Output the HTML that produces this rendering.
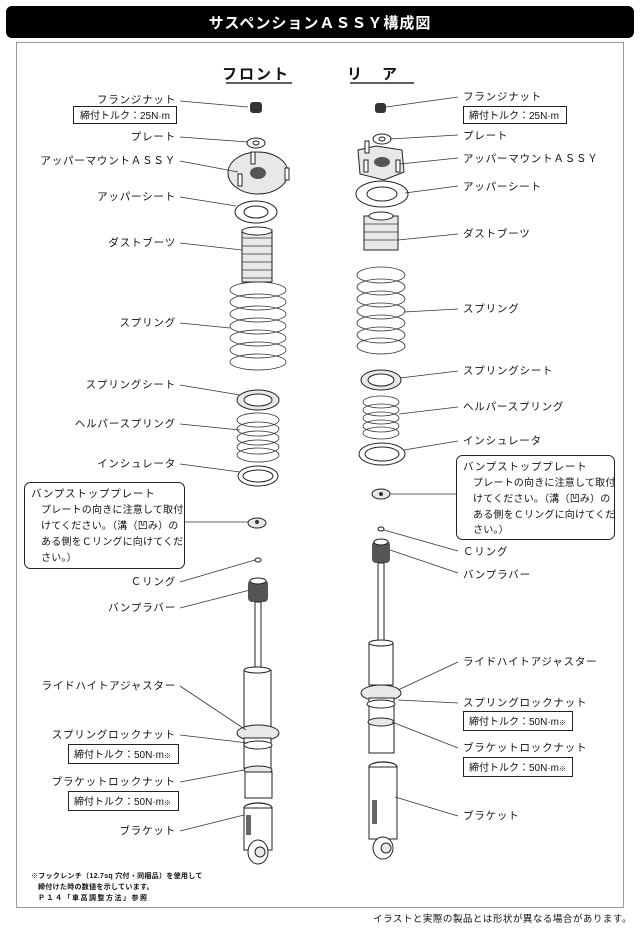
<!DOCTYPE html>
<html><head><meta charset="utf-8"><style>
html,body{margin:0;padding:0;background:#fff;}
svg{display:block;}
text{font-family:"Liberation Sans","Noto Sans CJK JP",sans-serif;font-size:10.5px;fill:#111;letter-spacing:0.8px;}
.r{text-anchor:end;}
.s{font-size:7px;letter-spacing:0.3px;}
.t{letter-spacing:0;font-size:10px;}
.bx{font-size:10px;letter-spacing:0.2px;}
.p{fill:#fff;stroke:#222;stroke-width:1;}
.g{fill:#e8e8e8;stroke:#222;stroke-width:1;}
.l{stroke:#333;stroke-width:0.8;fill:none;}
.b{fill:#fff;stroke:#222;stroke-width:1.2;}
</style></head><body>
<svg width="640" height="929" viewBox="0 0 640 929" xmlns="http://www.w3.org/2000/svg">
<rect x="6" y="6" width="628" height="32" rx="6" fill="#000"/>
<text x="320" y="28" text-anchor="middle" style="fill:#fff;font-size:15px;font-weight:bold;letter-spacing:1px">サスペンションＡＳＳＹ構成図</text>
<rect x="16.5" y="42.5" width="607" height="865" fill="#fff" stroke="#999" stroke-width="1"/>
<text x="256" y="79" text-anchor="middle" style="font-size:15px;font-weight:bold;letter-spacing:2px">フロント</text>
<line x1="226" y1="83" x2="292" y2="83" stroke="#000" stroke-width="1.2"/>
<text x="382" y="79" text-anchor="middle" style="font-size:15px;font-weight:bold;letter-spacing:20px">リア</text>
<line x1="350" y1="83" x2="414" y2="83" stroke="#000" stroke-width="1.2"/>

<!-- FRONT -->
<g>
<rect x="250" y="102" width="12" height="11" rx="3" fill="#333"/>
<ellipse cx="256" cy="143" rx="9" ry="5" class="p"/><ellipse cx="256" cy="143" rx="3" ry="2" class="p"/>
<ellipse cx="258" cy="173" rx="30" ry="21" class="g"/>
<ellipse cx="258" cy="173" rx="8" ry="6" fill="#555"/>
<rect x="251" y="152" width="4" height="12" class="p"/><rect x="285" y="168" width="4" height="12" class="p"/><rect x="238" y="174" width="4" height="12" class="p"/>
<ellipse cx="256" cy="212" rx="21" ry="11" class="p"/><ellipse cx="256" cy="212" rx="12" ry="6" class="p"/>
<rect x="242" y="230" width="30" height="52" class="g"/>
<g class="l"><path d="M242 238h30M242 246h30M242 254h30M242 262h30M242 270h30M242 278h30"/></g>
<ellipse cx="257" cy="231" rx="15" ry="4" class="p"/>
<g class="l" stroke-width="1.1">
<ellipse cx="258" cy="290" rx="28" ry="8"/><ellipse cx="258" cy="302" rx="28" ry="8"/><ellipse cx="258" cy="314" rx="28" ry="8"/><ellipse cx="258" cy="326" rx="28" ry="8"/><ellipse cx="258" cy="338" rx="28" ry="8"/><ellipse cx="258" cy="350" rx="28" ry="8"/><ellipse cx="258" cy="362" rx="28" ry="8"/>
</g>
<ellipse cx="258" cy="400" rx="21" ry="10" class="g"/><ellipse cx="258" cy="400" rx="14" ry="6" class="p"/>
<g class="l" stroke-width="1.1">
<ellipse cx="258" cy="420" rx="21" ry="7"/><ellipse cx="258" cy="429" rx="21" ry="7"/><ellipse cx="258" cy="438" rx="21" ry="7"/><ellipse cx="258" cy="447" rx="21" ry="7"/><ellipse cx="258" cy="455" rx="21" ry="7"/>
</g>
<ellipse cx="258" cy="476" rx="20" ry="10" class="p"/><ellipse cx="258" cy="476" rx="15" ry="6" class="p"/>
<ellipse cx="257" cy="523" rx="9" ry="5" class="g"/><circle cx="257" cy="522" r="2" fill="#333"/>
<ellipse cx="258" cy="560" rx="3" ry="2" class="p"/>
<rect x="248" y="580" width="20" height="22" rx="4" fill="#555"/><ellipse cx="258" cy="581" rx="8" ry="3" class="p"/>
<rect x="255" y="602" width="6" height="68" class="p"/>
<rect x="244" y="670" width="27" height="60" class="p"/><ellipse cx="257" cy="670" rx="13" ry="3" class="p"/>
<ellipse cx="258" cy="733" rx="21" ry="8" class="g"/><rect x="244" y="738" width="27" height="30" class="p"/>
<ellipse cx="258" cy="745" rx="14" ry="4" class="p"/><ellipse cx="258" cy="770" rx="14" ry="4" class="g"/>
<rect x="245" y="772" width="27" height="26" class="p"/>
<ellipse cx="258" cy="808" rx="14" ry="5" class="b" stroke-width="1.5"/>
<rect x="244" y="808" width="28" height="42" class="p"/>
<rect x="246" y="815" width="5" height="20" fill="#666"/>
<ellipse cx="258" cy="852" rx="10" ry="12" class="p"/><circle cx="260" cy="852" r="5" class="g"/>
</g>

<!-- REAR -->
<g>
<rect x="375" y="103" width="11" height="10" rx="3" fill="#333"/>
<ellipse cx="382" cy="139" rx="9" ry="5" class="p"/><ellipse cx="382" cy="139" rx="3" ry="2" class="p"/>
<path d="M358 150 L376 146 L402 150 L404 172 L384 180 L360 174 Z" class="g"/>
<ellipse cx="382" cy="162" rx="8" ry="5" fill="#555"/>
<rect x="365" y="141" width="4" height="12" class="p"/><rect x="364" y="160" width="4" height="12" class="p"/><rect x="396" y="160" width="4" height="12" class="p"/>
<ellipse cx="382" cy="194" rx="26" ry="13" class="p"/><ellipse cx="382" cy="194" rx="15" ry="7" class="p"/>
<rect x="364" y="216" width="34" height="34" class="g"/>
<g class="l"><path d="M364 224h34M364 232h34M364 240h34"/></g>
<ellipse cx="381" cy="216" rx="12" ry="4" class="p"/>
<g class="l" stroke-width="1.1">
<ellipse cx="381" cy="275" rx="24" ry="8"/><ellipse cx="381" cy="287" rx="24" ry="8"/><ellipse cx="381" cy="299" rx="24" ry="8"/><ellipse cx="381" cy="311" rx="24" ry="8"/><ellipse cx="381" cy="323" rx="24" ry="8"/><ellipse cx="381" cy="335" rx="24" ry="8"/><ellipse cx="381" cy="346" rx="24" ry="8"/>
</g>
<ellipse cx="381" cy="380" rx="20" ry="10" class="g"/><ellipse cx="381" cy="380" rx="13" ry="6" class="p"/>
<g class="l" stroke-width="1.1">
<ellipse cx="381" cy="402" rx="18" ry="6"/><ellipse cx="381" cy="410" rx="18" ry="6"/><ellipse cx="381" cy="418" rx="18" ry="6"/><ellipse cx="381" cy="426" rx="18" ry="6"/><ellipse cx="381" cy="433" rx="18" ry="6"/>
</g>
<ellipse cx="382" cy="454" rx="23" ry="11" class="p"/><ellipse cx="382" cy="454" rx="17" ry="7" class="p"/>
<ellipse cx="381" cy="494" rx="9" ry="5" class="g"/><circle cx="381" cy="494" r="2" fill="#333"/>
<ellipse cx="381" cy="529" rx="3" ry="2" class="p"/>
<rect x="372" y="541" width="18" height="22" rx="4" fill="#555"/><ellipse cx="381" cy="542" rx="7" ry="3" class="p"/>
<rect x="378" y="563" width="6" height="80" class="p"/>
<rect x="369" y="643" width="24" height="42" class="p"/><ellipse cx="381" cy="643" rx="12" ry="3" class="p"/>
<ellipse cx="381" cy="693" rx="20" ry="8" class="g"/>
<rect x="369" y="698" width="25" height="55" class="p"/>
<ellipse cx="381" cy="704" rx="14" ry="4" class="p"/><ellipse cx="381" cy="722" rx="13" ry="4" class="g"/>
<ellipse cx="383" cy="767" rx="14" ry="5" class="b" stroke-width="1.5"/>
<rect x="369" y="767" width="28" height="72" class="p"/>
<rect x="372" y="800" width="5" height="24" fill="#666"/>
<ellipse cx="383" cy="848" rx="10" ry="11" class="p"/><circle cx="386" cy="848" r="5" class="g"/>
</g>

<!-- LEFT LABELS -->
<g class="l">
<path d="M180 101 L248 107"/><path d="M180 137 L248 142"/><path d="M180 161 L238 172"/><path d="M180 197 L236 206"/>
<path d="M180 243 L242 250"/><path d="M180 323 L230 328"/><path d="M180 385 L240 395"/><path d="M180 424 L240 430"/>
<path d="M180 464 L240 472"/><path d="M184 522 L248 522"/><path d="M180 582 L255 560"/><path d="M180 608 L250 590"/>
<path d="M180 686 L246 730"/><path d="M180 735 L248 743"/><path d="M180 782 L244 770"/><path d="M180 831 L244 815"/>
</g>
<text class="r" x="176" y="103">フランジナット</text>
<rect x="73.5" y="106.5" width="103" height="17" fill="#fff" stroke="#222"/><text class="t" x="80" y="119">締付トルク：25N·m</text>
<text class="r" x="176" y="140">プレート</text>
<text class="r" x="176" y="164">アッパーマウントＡＳＳＹ</text>
<text class="r" x="176" y="200">アッパーシート</text>
<text class="r" x="176" y="246">ダストブーツ</text>
<text class="r" x="176" y="326">スプリング</text>
<text class="r" x="176" y="388">スプリングシート</text>
<text class="r" x="176" y="427">ヘルパースプリング</text>
<text class="r" x="176" y="467">インシュレータ</text>
<rect x="24.5" y="482.5" width="160" height="86" rx="6" fill="#fff" stroke="#222"/>
<text x="31" y="497">バンプストッププレート</text>
<text class="bx" x="41" y="513">プレートの向きに注意して取付</text>
<text class="bx" x="41" y="529">けてください。（溝（凹み）の</text>
<text class="bx" x="41" y="545">ある側をＣリングに向けてくだ</text>
<text class="bx" x="41" y="561">さい。）</text>
<text class="r" x="176" y="585">Ｃリング</text>
<text class="r" x="176" y="611">バンプラバー</text>
<text class="r" x="176" y="689">ライドハイトアジャスター</text>
<text class="r" x="176" y="738">スプリングロックナット</text>
<rect x="68.5" y="744.5" width="110" height="19" fill="#fff" stroke="#222"/><text class="t" x="74" y="758">締付トルク：50N·m<tspan class="s">※</tspan></text>
<text class="r" x="176" y="785">ブラケットロックナット</text>
<rect x="68.5" y="791.5" width="110" height="19" fill="#fff" stroke="#222"/><text class="t" x="74" y="805">締付トルク：50N·m<tspan class="s">※</tspan></text>
<text class="r" x="176" y="834">ブラケット</text>

<!-- RIGHT LABELS -->
<g class="l">
<path d="M458 97 L386 107"/><path d="M458 135 L390 139"/><path d="M458 158 L400 164"/><path d="M458 186 L405 193"/>
<path d="M458 234 L398 240"/><path d="M458 309 L404 312"/><path d="M458 371 L400 378"/><path d="M458 407 L399 414"/>
<path d="M458 441 L404 450"/><path d="M456 494 L390 494"/><path d="M458 551 L384 530"/><path d="M458 573 L390 550"/>
<path d="M458 662 L398 690"/><path d="M458 703 L398 700"/><path d="M458 748 L392 722"/><path d="M458 816 L395 797"/>
</g>
<text x="463" y="100">フランジナット</text>
<rect x="463.5" y="106.5" width="103" height="17" fill="#fff" stroke="#222"/><text class="t" x="469" y="119">締付トルク：25N·m</text>
<text x="463" y="139">プレート</text>
<text x="463" y="162">アッパーマウントＡＳＳＹ</text>
<text x="463" y="190">アッパーシート</text>
<text x="463" y="237">ダストブーツ</text>
<text x="463" y="312">スプリング</text>
<text x="463" y="374">スプリングシート</text>
<text x="463" y="410">ヘルパースプリング</text>
<text x="463" y="444">インシュレータ</text>
<rect x="456.5" y="455.5" width="158" height="84" rx="6" fill="#fff" stroke="#222"/>
<text x="463" y="470">バンプストッププレート</text>
<text class="bx" x="473" y="486">プレートの向きに注意して取付</text>
<text class="bx" x="473" y="502">けてください。（溝（凹み）の</text>
<text class="bx" x="473" y="518">ある側をＣリングに向けてくだ</text>
<text class="bx" x="473" y="533">さい。）</text>
<text x="463" y="555">Ｃリング</text>
<text x="463" y="578">バンプラバー</text>
<text x="463" y="665">ライドハイトアジャスター</text>
<text x="463" y="706">スプリングロックナット</text>
<rect x="463.5" y="711.5" width="109" height="19" fill="#fff" stroke="#222"/><text class="t" x="469" y="725">締付トルク：50N·m<tspan class="s">※</tspan></text>
<text x="463" y="751">ブラケットロックナット</text>
<rect x="463.5" y="757.5" width="109" height="19" fill="#fff" stroke="#222"/><text class="t" x="469" y="771">締付トルク：50N·m<tspan class="s">※</tspan></text>
<text x="463" y="819">ブラケット</text>

<text x="31" y="878" class="s" style="font-weight:bold">※フックレンチ（12.7sq 穴付・同梱品）を使用して</text>
<text x="38" y="889" class="s" style="font-weight:bold">締付けた時の数値を示しています。</text>
<text x="38" y="900" class="s" style="font-weight:bold;letter-spacing:1.5px">Ｐ１４「車高調整方法」参照</text>
<text x="632" y="922" text-anchor="end" style="font-size:9.5px;letter-spacing:0.5px">イラストと実際の製品とは形状が異なる場合があります。</text>
</svg>
</body></html>
